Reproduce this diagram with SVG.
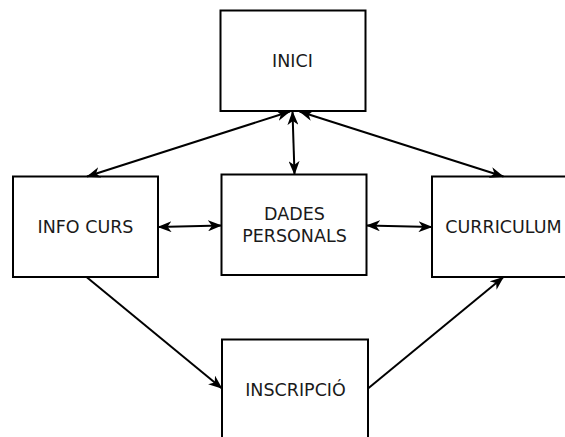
<svg xmlns="http://www.w3.org/2000/svg" width="565" height="437" viewBox="0 0 565 437">
<style>
.box{fill:#fff;stroke:#000;stroke-width:2}
.lbl{font-family:"DejaVu Sans",sans-serif;font-size:17.5px;fill:#1a1a1a;text-anchor:middle}
.con{fill:none;stroke:#000;stroke-width:2}
</style>
<defs>
<marker id="ah" viewBox="0 0 14 11" refX="13.5" refY="5.5" markerWidth="14" markerHeight="11" markerUnits="userSpaceOnUse" orient="auto-start-reverse">
<path d="M0,0 L14,5.5 L0,11 L4,5.5 Z" fill="#000"/>
</marker>
</defs>
<rect width="565" height="437" fill="#fff"/>
<g id="inici"><rect class="box" x="220.5" y="10.5" width="145" height="100.5"/><text class="lbl" x="292.5" y="66.5">INICI</text></g>
<g id="info-curs"><rect class="box" x="13" y="176.5" width="145" height="100.5"/><text class="lbl" x="85.5" y="232.5">INFO CURS</text></g>
<g id="dades-personals"><rect class="box" x="221.5" y="174.5" width="145" height="100.5"/><text class="lbl" x="294.5" y="220">DADES</text><text class="lbl" x="294.5" y="241.5">PERSONALS</text></g>
<g id="curriculum"><rect class="box" x="432" y="176.5" width="144" height="100.5"/><text class="lbl" x="503.5" y="232.5">CURRICULUM</text></g>
<g id="inscripcio"><rect class="box" x="222" y="339.5" width="146" height="100"/><text class="lbl" x="295.5" y="395.5">INSCRIPCIÓ</text></g>
<g id="connectors">
<line class="con" x1="290" y1="111.5" x2="87" y2="176.5" marker-start="url(#ah)" marker-end="url(#ah)"/>
<line class="con" x1="292.5" y1="111.5" x2="294.5" y2="174.5" marker-start="url(#ah)" marker-end="url(#ah)"/>
<line class="con" x1="299.5" y1="111.5" x2="503.5" y2="176.5" marker-start="url(#ah)" marker-end="url(#ah)"/>
<line class="con" x1="158" y1="227" x2="221.5" y2="225.5" marker-start="url(#ah)" marker-end="url(#ah)"/>
<line class="con" x1="366.5" y1="225.5" x2="432" y2="227" marker-start="url(#ah)" marker-end="url(#ah)"/>
<line class="con" x1="86.5" y1="277" x2="222" y2="388.5" marker-end="url(#ah)"/>
<line class="con" x1="368" y1="388.5" x2="503.5" y2="277" marker-end="url(#ah)"/>
</g>
</svg>
